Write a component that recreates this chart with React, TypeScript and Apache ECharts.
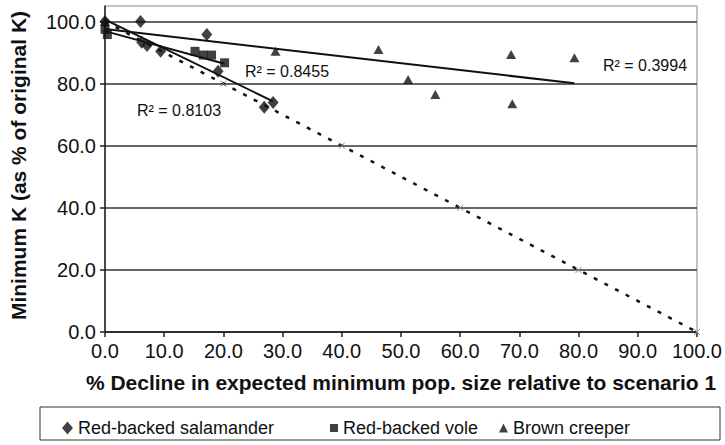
import React, { useEffect, useRef } from "react";
import * as echarts from "echarts";

// ---- data ----
const salamanderX = [0, 6.0, 6.2, 7.1, 9.4, 17.2, 19.1, 26.9, 28.4];
const salamanderY = [100, 100, 93.3, 92.3, 90.4, 95.8, 84.0, 72.4, 73.9];
const voleX = [0, 0.4, 15.2, 16.6, 18.0, 20.2];
const voleY = [97.5, 95.8, 90.4, 89.2, 89.2, 86.7];
const creeperX = [0, 28.8, 46.2, 51.2, 55.8, 68.6, 68.8, 79.3];
const creeperY = [100, 90.4, 91.0, 81.3, 76.5, 89.4, 73.5, 88.3];

const salTrendX = [0, 28.4];
const salTrendY = [100.6, 74.3];
const voleTrendX = [0, 20.2];
const voleTrendY = [96.9, 86.4];
const creeperTrendX = [0, 79.3];
const creeperTrendY = [97.6, 80.1];

const refLineX = [0, 20, 40, 60, 80, 100];
const refLineY = [100, 80, 60, 40, 20, 0];

const yTicks = [0, 20, 40, 60, 80, 100];

const r2Labels = ["R\u00B2 = 0.8103", "R\u00B2 = 0.8455", "R\u00B2 = 0.3994"];
const seriesNames = ["Red-backed salamander", "Red-backed vole", "Brown creeper"];

const xTitle = "% Decline in expected minimum pop. size relative to scenario 1";
const yTitle = "Minimum K (as % of original K)";

const FONT = "'Liberation Sans', Arial, Helvetica, sans-serif";

const zip = (xs: number[], ys: number[]) => xs.map((x, i) => [x, ys[i]]);

export default function App() {
  const ref = useRef<HTMLDivElement>(null);
  useEffect(() => {
    if (!ref.current) return;
    const chart = echarts.init(ref.current, undefined, { renderer: "svg" });
    const trend = (name: string, xs: number[], ys: number[]) => ({
      name,
      type: "line",
      data: zip(xs, ys),
      showSymbol: false,
      symbol: "none",
      lineStyle: { color: "#111", width: 2 },
      silent: true,
      z: 3,
    });
    const legendCommon = {
      orient: "horizontal",
      top: 414,
      itemGap: 0,
      textStyle: { fontFamily: FONT, fontSize: 18, color: "#111" },
      selectedMode: false,
    };
    chart.setOption({
      animation: false,
      backgroundColor: "#fff",
      grid: {
        left: 99,
        right: 28,
        top: 6,
        bottom: 113,
        show: true,
        borderColor: "#888",
        borderWidth: 1,
      },
      xAxis: {
        type: "value",
        min: 0,
        max: 100,
        interval: 10,
        name: xTitle,
        nameLocation: "middle",
        nameGap: 40,
        nameTextStyle: { fontFamily: FONT, fontSize: 21, fontWeight: "bold", color: "#111" },
        axisLine: { lineStyle: { color: "#222", width: 1.5 } },
        axisTick: { show: true, inside: false, length: 5, lineStyle: { color: "#222", width: 1.5 } },
        axisLabel: {
          fontFamily: FONT,
          fontSize: 20,
          color: "#111",
          margin: 9,
          formatter: (v: number) => v.toFixed(1),
        },
        splitLine: { show: false },
      },
      yAxis: {
        type: "value",
        min: 0,
        max: 105,
        interval: 20,
        name: yTitle,
        nameLocation: "middle",
        nameGap: 76,
        nameTextStyle: {
          fontFamily: FONT,
          fontSize: 21,
          fontWeight: "bold",
          color: "#111",
          padding: [0, 0, 0, 7],
        },
        axisLine: { show: true, lineStyle: { color: "#222", width: 1.5 } },
        axisTick: {
          show: true,
          inside: false,
          length: 5,
          customValues: yTicks,
          lineStyle: { color: "#222", width: 1.5 },
        },
        axisLabel: {
          fontFamily: FONT,
          fontSize: 20,
          color: "#111",
          margin: 9,
          customValues: yTicks,
          formatter: (v: number) => v.toFixed(1),
        },
        splitLine: {
          show: true,
          lineStyle: {
            color: ["#333", "#333", "#333", "#333", "#333", "#333", "#888"],
            width: 1.5,
          },
        },
      },
      legend: [
        { ...legendCommon, left: 57, data: [{ name: seriesNames[0], icon: "diamond" }], itemWidth: 11, itemHeight: 13 },
        { ...legendCommon, left: 325, data: [{ name: seriesNames[1], icon: "rect" }], itemWidth: 8, itemHeight: 8 },
        { ...legendCommon, left: 494, data: [{ name: seriesNames[2], icon: "triangle" }], itemWidth: 9, itemHeight: 9 },
      ],
      graphic: [
        {
          type: "rect",
          shape: { x: 40, y: 407, width: 680, height: 33 },
          style: { fill: "none", stroke: "#333", lineWidth: 1 },
          silent: true,
        },
        {
          type: "text",
          x: 137,
          y: 110,
          style: { text: r2Labels[0], fontFamily: FONT, fontSize: 16, fill: "#111", verticalAlign: "middle" },
        },
        {
          type: "text",
          x: 245,
          y: 71,
          style: { text: r2Labels[1], fontFamily: FONT, fontSize: 16, fill: "#111", verticalAlign: "middle" },
        },
        {
          type: "text",
          x: 603,
          y: 65,
          style: { text: r2Labels[2], fontFamily: FONT, fontSize: 16, fill: "#111", verticalAlign: "middle" },
        },
      ],
      series: [
        {
          name: "1:1",
          type: "line",
          data: zip(refLineX, refLineY),
          symbol: "path://M0,0L10,10M10,0L0,10",
          symbolSize: 6,
          itemStyle: { color: "#888", borderColor: "#888", borderWidth: 1 },
          lineStyle: { color: "#111", width: 2.5, type: [4, 8] },
          silent: true,
          z: 2,
        },
        trend("salTrend", salTrendX, salTrendY),
        trend("voleTrend", voleTrendX, voleTrendY),
        trend("creeperTrend", creeperTrendX, creeperTrendY),
        {
          name: seriesNames[0],
          type: "scatter",
          data: zip(salamanderX, salamanderY),
          symbol: "diamond",
          symbolSize: [11, 13],
          itemStyle: { color: "#111" },
          z: 4,
        },
        {
          name: seriesNames[1],
          type: "scatter",
          data: zip(voleX, voleY),
          symbol: "rect",
          symbolSize: 9,
          itemStyle: { color: "#111" },
          z: 4,
        },
        {
          name: seriesNames[2],
          type: "scatter",
          data: zip(creeperX, creeperY),
          symbol: "triangle",
          symbolSize: [10, 9],
          itemStyle: { color: "#111" },
          z: 4,
        },
      ],
    });
    return () => chart.dispose();
  }, []);
  return <div ref={ref} style={{ width: 725, height: 445, position: "absolute", left: 0, top: 0 }} />;
}
